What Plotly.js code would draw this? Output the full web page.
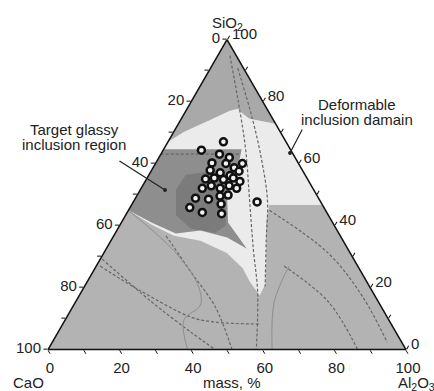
<!DOCTYPE html>
<html><head><meta charset="utf-8">
<script src="https://cdn.plot.ly/plotly-3.0.1.min.js"></script>
<style>html,body{margin:0;padding:0;background:#fff;}#chart{width:434px;height:391px;}</style>
</head><body><div id="chart"></div>
<script>
// Tick positions (component %) and the labels printed on each edge
const tickVals = [0,10,20,30,40,50,60,70,80,90,100];
const tickLabels = ['100','','80','','60','','40','','20','','0'];

// Inclusion compositions, mass % (SiO2, CaO, Al2O3)
const sampleSiO2  = [67.0,64.3,63.0,61.9,60.0,60.2,60.0,58.6,57.8,57.0,56.1,57.5,55.0,55.3,54.8,55.3,54.2,52.0,52.8,52.0,52.8,52.0,48.8,48.5,49.5,49.8,45.8,44.2,46.9,43.8,47.6];
const sampleCaO   = [17.5,25.0,20.6,18.4,15.7,24.1,20.3,18.7,25.8,23.4,21.1,17.9,28.5,25.9,23.6,20.6,19.3,30.9,28.0,25.9,23.0,21.3,34.4,30.9,27.2,24.8,37.5,34.8,28.2,29.6,17.8];
const sampleAl2O3 = [15.5,10.7,16.4,19.7,24.3,15.7,19.7,22.7,16.4,19.6,22.8,24.6,16.5,18.8,21.6,24.1,26.5,17.1,19.2,22.1,24.2,26.7,16.8,20.6,23.3,25.4,16.7,21.0,24.9,26.6,34.6];

// Region outlines [SiO2, CaO, Al2O3]
const upperRegion = [[100,0,0],[66.9,33.1,0],[70.2,27.0,2.8],[73.8,18.3,7.9],[77.0,10.7,12.3],[77.7,8.1,14.2],[76.4,7.7,15.9],[74.4,6.5,19.1],[72.8,0,27.2]];
const lightRegion = [[64.6,35.4,0],[66.9,33.1,0],[70.2,27.0,2.8],[73.8,18.3,7.9],[77.0,10.7,12.3],[77.7,8.1,14.2],[76.4,7.7,15.9],[74.4,6.5,19.1],[72.8,0,27.2],[46.6,0,53.4],[46.6,14.9,38.5],[40.7,18.7,40.6],[28.5,24.8,46.7],[21.0,28.8,50.2],[17.4,32.2,50.4],[22.0,32.7,45.3],[26.2,32.5,41.3],[31.1,34.5,34.4],[35.1,39.9,25.0],[36.7,46.5,16.8],[40.3,51.0,8.7],[44.9,55.1,0]];
const glassyRegion = [[64.6,35.4,0],[64.6,13.6,21.8],[58.7,17.6,23.7],[53.1,22.6,24.3],[49.8,25.1,25.1],[41.0,29.2,29.8],[32.5,28.2,39.3],[36.1,31.9,32.0],[38.4,38.2,23.4],[37.4,45.6,17.0],[41.0,50.6,8.4],[44.9,55.1,0]];
const glassyCore = [[56.4,33.3,10.3],[58.0,22.4,19.6],[48.2,26.4,25.4],[40.0,30.3,29.7],[37.7,34.4,27.9],[39.0,40.7,20.3],[43.3,42.6,14.1],[51.5,38.5,10.0]];

// Phase boundary lines [SiO2, CaO, Al2O3]
const dashedLines = [
  [[63.0,37.0,0],[63.0,14.9,22.1]],
  [[94.8,1.8,3.4],[81.0,6.5,12.5],[64.6,12.5,22.9],[48.2,19.6,32.2],[31.8,26.7,41.5],[18.7,32.1,49.2],[0,41.8,58.2]],
  [[90.8,1.6,7.6],[74.4,5.7,19.9],[61.3,9.7,29.0],[48.2,14.6,37.2],[35.1,21.5,43.4],[20.3,29.2,50.5]],
  [[44.9,15.7,39.4],[31.1,6.2,62.7],[17.0,3.6,79.4],[2.3,4.1,93.6]],
  [[26.9,20.6,52.5],[15.4,14.0,70.6],[0,13.5,86.5]],
  [[29.2,70.3,0.5],[15.4,63.4,21.2],[5.6,57.3,37.1],[0,53.3,46.7]],
  [[26.9,72.0,1.1],[18.7,64.5,16.8],[10.5,54.9,34.6],[8.9,49.4,41.7],[8.2,36.8,55.0]],
  [[36.7,48.7,14.6],[25.2,47.6,27.2],[13.8,46.4,39.8],[0,48.6,51.4]]
];
const solidLines = [
  [[44.9,55.1,0],[31.8,48.9,19.3],[21.0,47.7,31.3],[14.4,50.2,35.4],[9.5,57.3,33.2],[0,61.0,39.0]],
  [[26.9,19.2,53.9],[15.4,29.1,55.5],[0,37.4,62.6]]
];

const FONT = 'Liberation Sans, Arial, Helvetica, sans-serif';
const TXT = {family:FONT, size:15, color:'#222'};

function region(pts, color) {
  return {type:'scatterternary', mode:'lines', a:pts.map(p=>p[0]), b:pts.map(p=>p[1]), c:pts.map(p=>p[2]),
    fill:'toself', fillcolor:color, line:{width:0, color:color}, hoverinfo:'skip', showlegend:false};
}
function boundary(pts, dash, color, width) {
  return {type:'scatterternary', mode:'lines', a:pts.map(p=>p[0]), b:pts.map(p=>p[1]), c:pts.map(p=>p[2]),
    line:{width:width, color:color, dash:dash, shape:'spline'}, hoverinfo:'skip', showlegend:false};
}

const traces = [
  region(upperRegion, '#a9a9a9'),
  region(lightRegion, '#ebebeb'),
  region(glassyRegion, '#8e8e8e'),
  region(glassyCore, '#7b7b7b')
];
dashedLines.forEach(l => traces.push(boundary(l, '3px,2px', '#666666', 1.2)));
solidLines.forEach(l => traces.push(boundary(l, 'solid', '#8a8a8a', 0.9)));
traces.push({type:'scatterternary', mode:'markers', a:sampleSiO2, b:sampleCaO, c:sampleAl2O3,
  marker:{size:7, color:'#f4f4f4', line:{width:2.5, color:'#111111'}}, showlegend:false, hoverinfo:'skip'});

function axis() {
  return {title:{text:''},
    tickmode:'array', tickvals:tickVals, ticktext:tickLabels,
    ticks:'outside', ticklen:4, tickwidth:1, tickcolor:'#111',
    showgrid:false, showline:true, linecolor:'#111', linewidth:1.5,
    tickfont:TXT};
}
function label(text, x, y) {
  return {text:text, xref:'paper', yref:'paper', x:x/434, y:1-y/391, xanchor:'center', yanchor:'middle', showarrow:false, font:TXT};
}

const layout = {
  width:434, height:391, margin:{l:0,r:0,t:0,b:0},
  paper_bgcolor:'#ffffff', showlegend:false, font:TXT,
  ternary:{sum:100, bgcolor:'#b3b3b3',
    domain:{x:[48/434, 406/434], y:[41.5/391, 351.5/391]},
    aaxis:axis(), baxis:axis(), caxis:axis()},
  annotations:[
    label('SiO<sub>2</sub>', 227, 24),
    label('CaO', 28, 382),
    label('Al<sub>2</sub>O<sub>3</sub>', 416, 383),
    label('mass, %', 232, 382),
    label('Target glassy', 74, 129),
    label('inclusion region', 74, 144),
    label('Deformable', 357, 104.5),
    label('inclusion damain', 357, 119),
    {text:'', xref:'paper', yref:'paper', x:165/434, y:1-190/391, ax:-47, ay:-30, showarrow:true, arrowhead:6, arrowsize:0.8, arrowwidth:1.2, arrowcolor:'#222'},
    {text:'', xref:'paper', yref:'paper', x:290/434, y:1-153/391, ax:13, ay:-25, showarrow:true, arrowhead:6, arrowsize:0.8, arrowwidth:1.2, arrowcolor:'#222'}
  ]
};

Plotly.newPlot('chart', traces, layout, {displayModeBar:false, staticPlot:true});
</script></body></html>
